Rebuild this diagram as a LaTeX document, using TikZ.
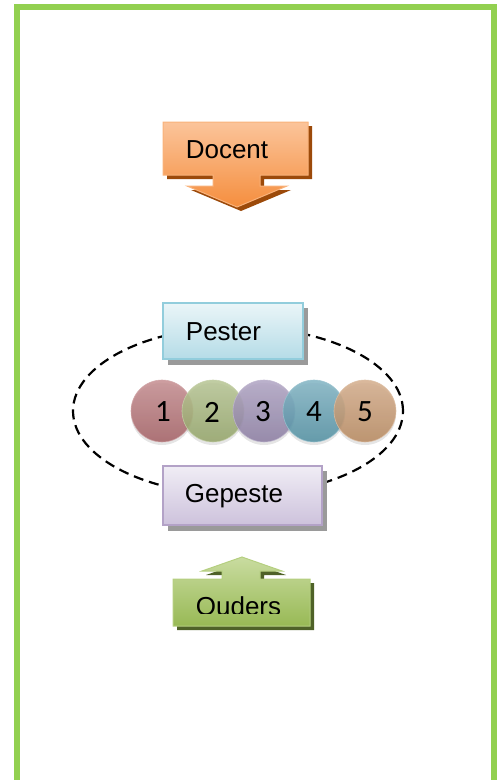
\documentclass[tikz,border=0pt]{standalone}
\usepackage{fontspec}
\setmainfont{Liberation Sans}
\newfontfamily\numfont{Carlito}
\definecolor{framegreen}{HTML}{92D050}
\definecolor{orTop}{HTML}{FBC49A}
\definecolor{orBot}{HTML}{F58E3E}
\definecolor{orLine}{HTML}{F9B27A}
\definecolor{orShadow}{HTML}{9C4A0A}
\definecolor{grTop}{HTML}{C9DCA0}
\definecolor{grBot}{HTML}{98B955}
\definecolor{grLine}{HTML}{B5CF80}
\definecolor{grShadow}{HTML}{4F6228}
\definecolor{blTop}{HTML}{EAF5F8}
\definecolor{blBot}{HTML}{B5DCE7}
\definecolor{blLine}{HTML}{92CDDC}
\definecolor{viTop}{HTML}{F0EDF5}
\definecolor{viBot}{HTML}{CDC2DC}
\definecolor{viLine}{HTML}{B3A2C7}
\definecolor{boxShadow}{HTML}{9A9A9A}
\definecolor{cA}{HTML}{B26A6E}
\definecolor{cB}{HTML}{A0B272}
\definecolor{cC}{HTML}{9788B0}
\definecolor{cD}{HTML}{5A9CB0}
\definecolor{cE}{HTML}{C69468}
\begin{document}
\begin{tikzpicture}[x=1pt,y=-1pt,
  lbl/.style={font=\fontsize{26}{30}\selectfont, inner sep=0pt, anchor=base},
  numlbl/.style={circle, minimum size=62pt, inner sep=0pt, font=\numfont\fontsize{31}{35}\selectfont},
  ballshadow/.style={fill=black, opacity=0.10},
  box/.style={rectangle, inner sep=0pt, line width=1.2pt},
  boxshade/.style={fill=boxShadow}
]
\useasboundingbox (0,0) rectangle (498,780);
% green frame (open at bottom)
\draw[framegreen, line width=6pt, line join=miter] (17,781) -- (17,7) -- (494,7) -- (494,781);

% ---- Docent arrow ----
\fill[orShadow] (167,126) -- (312,126) -- (312,179) -- (264,179) -- (264,190) -- (291,190) -- (241,211) -- (191,190) -- (217,190) -- (217,179) -- (167,179) -- cycle;
\shade[top color=orTop, bottom color=orBot, draw=orLine, line width=1pt]
  (163,122) -- (308,122) -- (308,175) -- (260,175) -- (260,186) -- (287,186) -- (237,207) -- (187,186) -- (213,186) -- (213,175) -- (163,175) -- cycle;
\node[lbl] (docent) at (227,158) {Docent};

% ---- ellipse ----
\draw[line width=2.2pt, dash pattern=on 10pt off 6pt] (238,411) ellipse [x radius=165pt, y radius=84pt];

% ---- Pester box ----
\fill[boxshade] (168,308) rectangle (308,365);
\node[box, minimum width=140pt, minimum height=56pt, top color=blTop, bottom color=blBot, draw=blLine] (pesterbox) at (233,331) {};
\node[lbl] (pester) at (223.5,340) {Pester};

% ---- Gepeste box ----
\fill[boxshade] (168,471) rectangle (327,531);
\node[box, minimum width=159pt, minimum height=59pt, top color=viTop, bottom color=viBot, draw=viLine] (gepestebox) at (242.5,495.5) {};
\node[lbl] (gepeste) at (234,502) {Gepeste};

% ---- circles ----
\foreach \cx in {162,213,264,314,365} {
  \fill[ballshadow] (\cx,414) circle [radius=31pt];
}
\shade[top color=cA!75!white, bottom color=cA!92!black, opacity=0.87, draw=cA!60!white, line width=0.6pt] (162,411) circle [radius=31pt];
\shade[top color=cB!75!white, bottom color=cB!92!black, opacity=0.87, draw=cB!60!white, line width=0.6pt] (213,411) circle [radius=31pt];
\shade[top color=cC!75!white, bottom color=cC!92!black, opacity=0.87, draw=cC!60!white, line width=0.6pt] (264,411) circle [radius=31pt];
\shade[top color=cD!75!white, bottom color=cD!92!black, opacity=0.87, draw=cD!60!white, line width=0.6pt] (314,411) circle [radius=31pt];
\shade[top color=cE!75!white, bottom color=cE!92!black, opacity=0.87, draw=cE!60!white, line width=0.6pt] (365,411) circle [radius=31pt];
\node[numlbl] (n1) at (163,412) {1};
\node[numlbl] (n2) at (212,412) {2};
\node[numlbl] (n3) at (263,412) {3};
\node[numlbl] (n4) at (314,412) {4};
\node[numlbl] (n5) at (365,412) {5};

% ---- Ouders arrow ----
\fill[grShadow] (177,583) -- (226,583) -- (226,575) -- (206,575) -- (246,561) -- (286,575) -- (264,575) -- (264,583) -- (314,583) -- (314,630) -- (177,630) -- cycle;
\shade[top color=grTop, bottom color=grBot, draw=grLine, line width=1pt]
  (173,579) -- (222,579) -- (222,571) -- (202,571) -- (242,557) -- (282,571) -- (260,571) -- (260,579) -- (310,579) -- (310,626) -- (173,626) -- cycle;
\begin{scope}
  \clip (173,579) rectangle (310,613);
  \node[lbl] (ouders) at (238.5,615.6) {Ouders};
\end{scope}
\end{tikzpicture}
\end{document}
